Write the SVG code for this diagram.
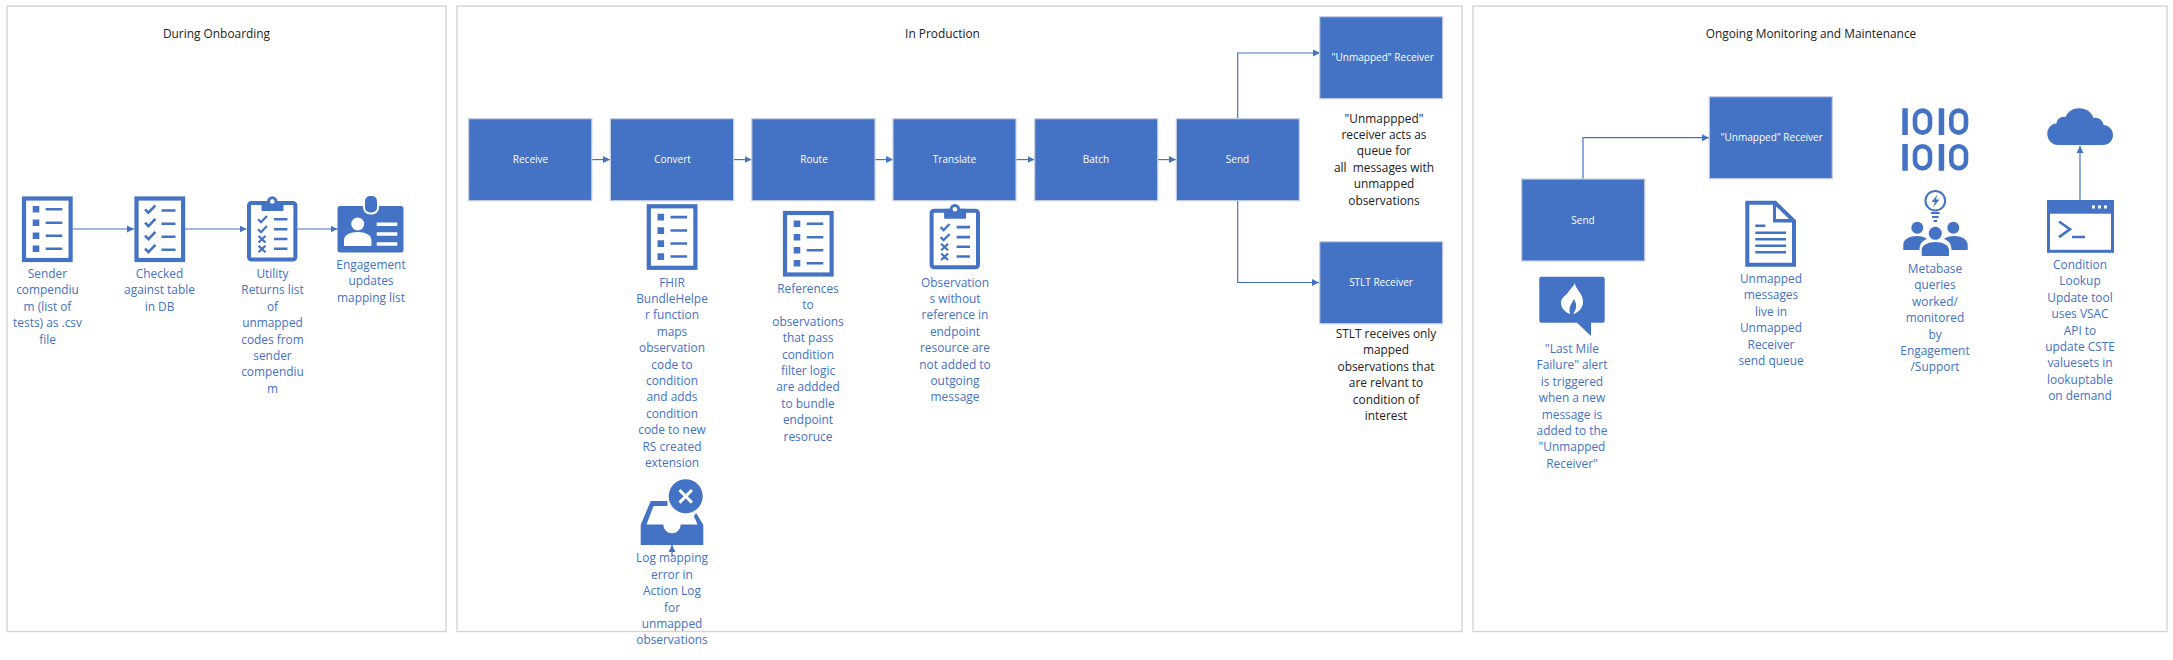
<svg xmlns="http://www.w3.org/2000/svg" width="2173" height="660" viewBox="0 0 2173 660">
<style>
text{font-family:"Open Sans","Noto Sans","Liberation Sans",sans-serif;text-anchor:middle}
.panel{fill:#fff;stroke:#d4d4d4;stroke-width:1.4}
.box{fill:#4472c4;stroke:#c4cfe2;stroke-width:1.2}
.nl{fill:#fff;font-size:10px}
.title{fill:#222;font-size:11.9px}
.lb{fill:#4472c4;font-size:11.9px}
.lk{fill:#222;font-size:11.9px}
.c{fill:none;stroke:#4472c4;stroke-width:1.2;marker-end:url(#ah)}
.f{fill:#4472c4}
.w{fill:#fff}
.sb{fill:none;stroke:#4472c4}
.sw{fill:none;stroke:#fff}
</style>
<defs>
<marker id="ah" markerUnits="userSpaceOnUse" markerWidth="8" markerHeight="8" refX="7" refY="4" orient="auto"><path d="M0 .5 7 4 0 7.5Z" fill="#4472c4"/></marker>
<g id="listdoc">
<rect x="2" y="2" width="46.6" height="61.5" fill="#fff" stroke="#4472c4" stroke-width="4.2"/>
<path class="f" d="M10.7 9.5h6.6v6.6h-6.6zM10.7 23h6.6v6.6h-6.6zM10.7 36h6.6v6.6h-6.6zM10.7 49h6.6v6.6h-6.6z"/>
<path class="sb" stroke-width="2.6" d="M23.7 12.8h16.6M23.7 26.2h16.6M23.7 39.2h16.6M23.7 52.2h16.6"/>
</g>
<g id="checkdoc">
<rect x="2" y="2" width="46.6" height="61.5" fill="#fff" stroke="#4472c4" stroke-width="4.2"/>
<path class="sb" stroke-width="2.6" d="M10.5 12.8l3.4 3.4 7-7.2M10.5 26.2l3.4 3.4 7-7.2M10.5 39.2l3.4 3.4 7-7.2M10.5 52.2l3.4 3.4 7-7.2"/>
<path class="sb" stroke-width="2.6" d="M27 14h14M27 27.2h14M27 40.2h14M27 53.2h14"/>
</g>
<g id="clip">
<rect x="2" y="7" width="46.4" height="56.5" rx="2.5" fill="#fff" stroke="#4472c4" stroke-width="4"/>
<rect x="14.5" y="5" width="22" height="10" rx="1" class="f"/>
<circle cx="25.3" cy="5.5" r="5.2" class="f"/>
<circle cx="25.3" cy="5.5" r="2.3" class="w"/>
<path class="sb" stroke-width="2.2" d="M11 23.3l3 3 6-6.2M11 33.3l3 3 6-6.2M11.5 40l7 6.5M18.5 40l-7 6.5M11.5 49.7l7 6.5M18.5 49.7l-7 6.5"/>
<path class="sb" stroke-width="2.6" d="M27 23.3h13.4M27 33.3h13.4M27 43h13.4M27 52.7h13.4"/>
</g>
</defs>

<g id="panel-onboarding"><rect class="panel" x="7" y="6" width="439" height="625.5"/><text class="title" x="216.5" y="38">During Onboarding</text></g>
<g id="panel-production"><rect class="panel" x="457" y="6" width="1005" height="625.5"/><text class="title" x="942.5" y="38">In Production</text></g>
<g id="panel-monitoring"><rect class="panel" x="1473" y="6" width="694" height="625.5"/><text class="title" x="1811" y="38">Ongoing Monitoring and Maintenance</text></g>

<g id="connectors">
<path class="c" d="M72.7 229H134"/>
<path class="c" d="M185 229H246.5"/>
<path class="c" d="M297.5 229H337.5"/>
<path class="c" d="M591.8 159.6H610"/>
<path class="c" d="M733.6 159.6H751.5"/>
<path class="c" d="M875 159.6H893"/>
<path class="c" d="M1016 159.6H1034.5"/>
<path class="c" d="M1157.7 159.6H1176"/>
<path class="c" d="M1237.7 118.7V53H1320"/>
<path class="c" d="M1237.7 200.7V282.5H1319"/>
<path class="c" d="M672 557V545"/>
<path class="c" d="M1583 179V137.7H1709"/>
<path class="c" d="M2080 200.7V146"/>
</g>

<g id="n-sender"><use href="#listdoc" x="22" y="196.5"/><text class="lb" y="278"><tspan x="47.5">Sender</tspan><tspan x="47.5" dy="16.4">compendiu</tspan><tspan x="47.5" dy="16.4">m (list of</tspan><tspan x="47.5" dy="16.4">tests) as .csv</tspan><tspan x="47.5" dy="16.4">file</tspan></text></g>
<g id="n-checked"><use href="#checkdoc" x="134.5" y="196.5"/><text class="lb" y="278"><tspan x="159.5">Checked</tspan><tspan x="159.5" dy="16.4">against table</tspan><tspan x="159.5" dy="16.4">in DB</tspan></text></g>
<g id="n-utility"><use href="#clip" x="247" y="196"/><text class="lb" y="278"><tspan x="272.5">Utility</tspan><tspan x="272.5" dy="16.4">Returns list</tspan><tspan x="272.5" dy="16.4">of</tspan><tspan x="272.5" dy="16.4">unmapped</tspan><tspan x="272.5" dy="16.4">codes from</tspan><tspan x="272.5" dy="16.4">sender</tspan><tspan x="272.5" dy="16.4">compendiu</tspan><tspan x="272.5" dy="16.4">m</tspan></text></g>
<g id="n-engagement">
<rect x="337.5" y="206" width="66" height="46.5" rx="2.5" class="f"/>
<rect x="364" y="195" width="14" height="18.5" rx="6" class="f" stroke="#fff" stroke-width="2"/>
<circle cx="357.700" cy="224" r="6.5" class="w"/>
<path class="w" d="M344 246v-6c0-5 6-8 13.7-8s13.7 3 13.7 8v6z"/>
<path class="sw" stroke-width="3.4" d="M376.7 224.3h20.6M376.7 234h20.6M376.7 244h20.6"/>
<text class="lb" y="269"><tspan x="371">Engagement</tspan><tspan x="371" dy="16.4">updates</tspan><tspan x="371" dy="16.4">mapping list</tspan></text>
</g>

<g id="n-receive"><rect class="box" x="468.6" y="118.7" width="123.2" height="82"/><text class="nl" x="530.5" y="163">Receive</text></g>
<g id="n-convert"><rect class="box" x="610.4" y="118.7" width="123.2" height="82"/><text class="nl" x="672.5" y="163">Convert</text></g>
<g id="n-route"><rect class="box" x="751.8" y="118.7" width="123.2" height="82"/><text class="nl" x="814" y="163">Route</text></g>
<g id="n-translate"><rect class="box" x="893" y="118.7" width="123" height="82"/><text class="nl" x="954.5" y="163">Translate</text></g>
<g id="n-batch"><rect class="box" x="1034.7" y="118.7" width="123" height="82"/><text class="nl" x="1096" y="163">Batch</text></g>
<g id="n-send"><rect class="box" x="1176.3" y="118.7" width="123" height="82"/><text class="nl" x="1237.5" y="163">Send</text></g>
<g id="n-unmapped"><rect class="box" x="1319.7" y="16.7" width="123" height="82"/><text class="nl" x="1382.7" y="61">"Unmapped" Receiver</text>
<text class="lk" y="122.5"><tspan x="1384">"Unmappped"</tspan><tspan x="1384" dy="16.4">receiver acts as</tspan><tspan x="1384" dy="16.4">queue for</tspan><tspan x="1384" dy="16.4" xml:space="preserve">all  messages with</tspan><tspan x="1384" dy="16.4">unmapped</tspan><tspan x="1384" dy="16.4">observations</tspan></text></g>
<g id="n-stlt"><rect class="box" x="1319.7" y="241.7" width="123" height="82"/><text class="nl" x="1381" y="286">STLT Receiver</text>
<text class="lk" y="338"><tspan x="1386">STLT receives only</tspan><tspan x="1386" dy="16.4">mapped</tspan><tspan x="1386" dy="16.4">observations that</tspan><tspan x="1386" dy="16.4">are relvant to</tspan><tspan x="1386" dy="16.4">condition of</tspan><tspan x="1386" dy="16.4">interest</tspan></text></g>

<g id="n-fhir"><use href="#listdoc" x="646.8" y="204.3"/><text class="lb" y="286.5"><tspan x="672">FHIR</tspan><tspan x="672" dy="16.4">BundleHelpe</tspan><tspan x="672" dy="16.4">r function</tspan><tspan x="672" dy="16.4">maps</tspan><tspan x="672" dy="16.4">observation</tspan><tspan x="672" dy="16.4">code to</tspan><tspan x="672" dy="16.4">condition</tspan><tspan x="672" dy="16.4">and adds</tspan><tspan x="672" dy="16.4">condition</tspan><tspan x="672" dy="16.4">code to new</tspan><tspan x="672" dy="16.4">RS created</tspan><tspan x="672" dy="16.4">extension</tspan></text></g>
<g id="n-references"><use href="#listdoc" x="783" y="211"/><text class="lb" y="293"><tspan x="808">References</tspan><tspan x="808" dy="16.4">to</tspan><tspan x="808" dy="16.4">observations</tspan><tspan x="808" dy="16.4">that pass</tspan><tspan x="808" dy="16.4">condition</tspan><tspan x="808" dy="16.4">filter logic</tspan><tspan x="808" dy="16.4">are addded</tspan><tspan x="808" dy="16.4">to bundle</tspan><tspan x="808" dy="16.4">endpoint</tspan><tspan x="808" dy="16.4">resoruce</tspan></text></g>
<g id="n-observations"><use href="#clip" x="929.6" y="203.8"/><text class="lb" y="286.5"><tspan x="955">Observation</tspan><tspan x="955" dy="16.4">s without</tspan><tspan x="955" dy="16.4">reference in</tspan><tspan x="955" dy="16.4">endpoint</tspan><tspan x="955" dy="16.4">resource are</tspan><tspan x="955" dy="16.4">not added to</tspan><tspan x="955" dy="16.4">outgoing</tspan><tspan x="955" dy="16.4">message</tspan></text></g>
<g id="n-log">
<path class="f" d="M640.7 545V525L650.7 501H667.5V506H653.5L646.5 524.5H663.3A8.7 8.7 0 0 0 680.7 524.5H697.5L693.8 516 696.3 513.3 703.3 525V545Z"/>
<circle cx="685.7" cy="496.3" r="17" class="f"/>
<path class="sw" stroke-width="3" d="M679.5 490l12.400 12.600M691.900 490l-12.400 12.600"/>
<text class="lb" y="562.3"><tspan x="672">Log mapping</tspan><tspan x="672" dy="16.4">error in</tspan><tspan x="672" dy="16.4">Action Log</tspan><tspan x="672" dy="16.4">for</tspan><tspan x="672" dy="16.4">unmapped</tspan><tspan x="672" dy="16.4">observations</tspan></text>
</g>

<g id="n-send2"><rect class="box" x="1521.7" y="179" width="123" height="82"/><text class="nl" x="1583" y="223.5">Send</text></g>
<g id="n-unmapped2"><rect class="box" x="1709.3" y="96.7" width="123" height="82"/><text class="nl" x="1771.7" y="141">"Unmapped" Receiver</text></g>
<g id="n-alert">
<path class="f" d="M1541.3 276.7H1602.7Q1604.7 276.7 1604.7 278.7V320.7Q1604.7 322.7 1602.7 322.7H1591V336L1577 322.7H1541.3Q1539.3 322.7 1539.3 320.7V278.7Q1539.3 276.7 1541.3 276.7Z"/>
<path class="w" d="M1575 283C1575 289 1583 293 1583 302C1583 308 1578 313 1573 314C1577 309 1577 304 1574 299C1572 304 1568 306 1570 314C1565 312 1561 308 1561 303C1561 297 1566 296 1569 291C1571 288 1574 286 1575 283Z"/>
<text class="lb" y="353"><tspan x="1572">"Last Mile</tspan><tspan x="1572" dy="16.4">Failure" alert</tspan><tspan x="1572" dy="16.4">is triggered</tspan><tspan x="1572" dy="16.4">when a new</tspan><tspan x="1572" dy="16.4">message is</tspan><tspan x="1572" dy="16.4">added to the</tspan><tspan x="1572" dy="16.4">"Unmapped</tspan><tspan x="1572" dy="16.4">Receiver"</tspan></text>
</g>
<g id="n-queue">
<path d="M1747.3 202.7H1775L1794 221V264.7H1747.3Z" fill="#fff" stroke="#4472c4" stroke-width="4"/>
<path class="f" d="M1773 203V222.5H1794V219L1776 219 1776 203Z"/>
<path class="sb" stroke-width="2.4" d="M1755.3 225.7h10M1755.3 232.7h30.700M1755.3 239.3h30.700M1755.3 245.7h30.700M1755.3 252.3h30.700"/>
<text class="lb" y="283"><tspan x="1771">Unmapped</tspan><tspan x="1771" dy="16.4">messages</tspan><tspan x="1771" dy="16.4">live in</tspan><tspan x="1771" dy="16.4">Unmapped</tspan><tspan x="1771" dy="16.4">Receiver</tspan><tspan x="1771" dy="16.4">send queue</tspan></text>
</g>
<g id="n-metabase">
<path class="f" d="M1902.3 108.3h5.500v26.700h-5.500zM1938.7 108.3h5.500v26.700h-5.500zM1902.3 144h5.500v26.700h-5.500zM1938.7 144h5.500v26.700h-5.500z"/>
<g fill="none" stroke="#4472c4" stroke-width="4.600">
<rect x="1915" y="110.600" width="15" height="22" rx="7.500"/><rect x="1951.300" y="110.600" width="14.700" height="22" rx="7.300"/>
<rect x="1915" y="146.300" width="15" height="22" rx="7.500"/><rect x="1951.300" y="146.300" width="14.700" height="22" rx="7.300"/>
</g>
<circle cx="1935.3" cy="200.7" r="9.8" fill="#fff" stroke="#4472c4" stroke-width="2"/>
<path class="f" d="M1937.5 194.5L1931.5 202H1935L1933 207.5L1939.5 199.5H1936Z"/>
<path class="sb" stroke-width="1.8" d="M1931 213h8.6M1932 217h6.6M1933.5 221h3.6"/>
<circle cx="1917.3" cy="227.7" r="6" class="f"/><circle cx="1953.3" cy="227.7" r="6" class="f"/>
<path class="f" d="M1903.3 250V245C1903.3 239 1910 236 1917 236C1921 236 1925 237 1927 239C1922 241 1919.5 244 1919.5 250ZM1967.7 250V245C1967.7 239 1961 236 1954 236C1950 236 1946 237 1944 239C1949 241 1951.5 244 1951.5 250Z"/>
<circle cx="1935.3" cy="233.3" r="6.5" class="f"/>
<path class="f" d="M1921.7 256V250C1921.7 245 1928 242 1935.3 242S1949 245 1949 250V256Z"/>
<text class="lb" y="273"><tspan x="1935">Metabase</tspan><tspan x="1935" dy="16.4">queries</tspan><tspan x="1935" dy="16.4">worked/</tspan><tspan x="1935" dy="16.4">monitored</tspan><tspan x="1935" dy="16.4">by</tspan><tspan x="1935" dy="16.4">Engagement</tspan><tspan x="1935" dy="16.4">/Support</tspan></text>
</g>
<g id="n-cloud"><path class="f" d="M2058 145C2052 145 2047.3 140 2047.3 134C2047.3 128 2051 124 2056.5 123.5C2057 119 2061 116 2065.5 117C2068 111.5 2073 108.3 2079 108.3C2086 108.3 2091.5 112 2093.5 118C2098.5 117 2103 120.5 2103.5 125C2109 125.5 2113 129.5 2113 135C2113 141 2108.5 145 2103 145Z"/></g>
<g id="n-terminal">
<rect x="2048.5" y="201.5" width="64" height="49.8" fill="#fff" stroke="#4472c4" stroke-width="3"/>
<rect x="2047.5" y="200.7" width="66" height="13" class="f"/>
<path class="w" d="M2092 205.5h3v3h-3zM2098 205.5h3v3h-3zM2104 205.5h3v3h-3z"/>
<path class="sb" stroke-width="2.6" d="M2059 221.5l11 7.8-11 7.8M2072 237h13"/>
<text class="lb" y="269"><tspan x="2080">Condition</tspan><tspan x="2080" dy="16.4">Lookup</tspan><tspan x="2080" dy="16.4">Update tool</tspan><tspan x="2080" dy="16.4">uses VSAC</tspan><tspan x="2080" dy="16.4">API to</tspan><tspan x="2080" dy="16.4">update CSTE</tspan><tspan x="2080" dy="16.4">valuesets in</tspan><tspan x="2080" dy="16.4">lookuptable</tspan><tspan x="2080" dy="16.4">on demand</tspan></text>
</g>
</svg>
